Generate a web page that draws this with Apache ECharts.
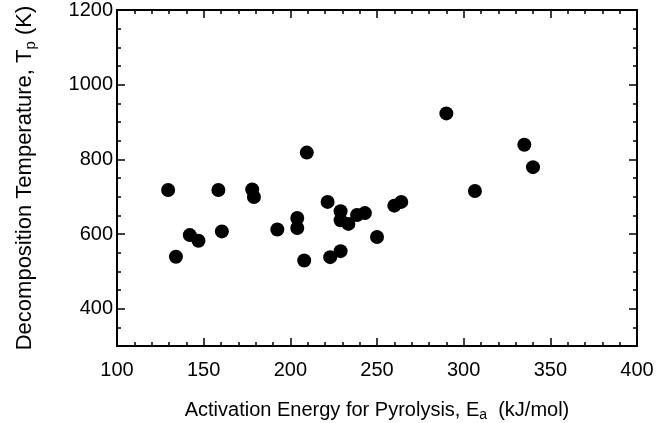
<!DOCTYPE html>
<html>
<head>
<meta charset="utf-8">
<script src="https://cdn.jsdelivr.net/npm/echarts@6/dist/echarts.min.js"></script>
<style>
  html, body { margin: 0; padding: 0; background: #fff; }
  #chart { width: 664px; height: 423px; }
</style>
</head>
<body>
<div id="chart"></div>
<script>
// Activation energy (kJ/mol) vs. decomposition temperature (K)
const activationEnergy = [129.5, 134, 142, 147, 158.5, 160.5, 178, 179, 192.5, 204, 204, 208, 209.5,
  221.5, 223, 229, 229, 229, 233.5, 238.5, 243, 250, 260, 264, 290, 306.5, 335, 340];
const decompTemp = [718, 539, 597, 582, 718, 607, 719, 699, 612, 643, 616, 529, 818,
  686, 538, 661, 637, 554, 627, 651, 656, 592, 676, 686, 923, 715, 839, 779];
const xTickLabels = [100, 150, 200, 250, 300, 350, 400];
const yTickLabels = [400, 600, 800, 1000, 1200];

const FONT = "'Liberation Sans', Arial, sans-serif";
const INK = '#000';
const plain = v => String(v);

const points = activationEnergy.map((e, i) => [e, decompTemp[i]]);

const lineStyle = { color: INK, width: 2 };
const xRange = { min: xTickLabels[0], max: xTickLabels[xTickLabels.length - 1], interval: 50 };
const yRange = { min: 300, max: yTickLabels[yTickLabels.length - 1] };

function xAxisDef(position, withLabels) {
  return {
    type: 'value', position: position, ...xRange,
    axisLine: { show: true, onZero: false, lineStyle: lineStyle },
    axisTick: { show: true, inside: true, length: 8, lineStyle: { color: INK, width: 1.5 } },
    minorTick: { show: true, splitNumber: 5, length: 4, lineStyle: { color: INK, width: 1.5 } },
    splitLine: { show: false },
    minorSplitLine: { show: false },
    axisLabel: withLabels
      ? { show: true, color: INK, fontSize: 20, fontFamily: FONT, margin: 14, formatter: plain }
      : { show: false }
  };
}

function yMinorDef(position, withLabels) {
  return {
    type: 'value', position: position, ...yRange, interval: 50,
    axisLine: { show: true, onZero: false, lineStyle: lineStyle },
    axisTick: { show: true, inside: true, length: 4, lineStyle: { color: INK, width: 1.5 } },
    splitLine: { show: false },
    axisLabel: withLabels
      ? { show: true, customValues: yTickLabels, color: INK, fontSize: 20, fontFamily: FONT, margin: 4, formatter: plain }
      : { show: false }
  };
}

function yMajorDef(position) {
  return {
    type: 'value', position: position, ...yRange,
    axisLine: { show: false, onZero: false },
    axisTick: { show: true, inside: true, length: 8, customValues: yTickLabels,
      lineStyle: { color: INK, width: 1.5 } },
    splitLine: { show: false },
    axisLabel: { show: false }
  };
}

function titleRich(size) {
  return {
    n: { fontSize: size, fontFamily: FONT, color: INK, lineHeight: size + 4 },
    s: { fontSize: Math.round(size * 0.7), fontFamily: FONT, color: INK, lineHeight: size + 4,
      verticalAlign: 'bottom', padding: [Math.round(size * 0.45), 0, 0, 0] }
  };
}

const xMain = xAxisDef('bottom', true);
xMain.name = '{n|Activation Energy for Pyrolysis, E}{s|a}{n|  (kJ/mol)}';
xMain.nameLocation = 'middle';
xMain.nameGap = 52;
xMain.nameTextStyle = { rich: titleRich(20) };

const yMain = yMinorDef('left', true);
yMain.name = '{n|Decomposition Temperature, T}{s|p}{n| (K)}';
yMain.nameLocation = 'middle';
yMain.nameRotate = 90;
yMain.nameGap = 79;
yMain.nameTextStyle = { rich: titleRich(22) };

const chart = echarts.init(document.getElementById('chart'), null, { renderer: 'canvas' });
chart.setOption({
  animation: false,
  backgroundColor: '#fff',
  textStyle: { fontFamily: FONT },
  grid: { left: 117, top: 10, right: 27, bottom: 77, outerBoundsMode: 'none' },
  xAxis: [xMain, xAxisDef('top', false)],
  yAxis: [yMain, yMajorDef('left'), yMinorDef('right', false), yMajorDef('right')],
  series: [{
    type: 'scatter',
    xAxisIndex: 0,
    yAxisIndex: 0,
    data: points,
    symbol: 'circle',
    symbolSize: 14,
    itemStyle: { color: INK, opacity: 1 }
  }]
});
</script>
</body>
</html>
